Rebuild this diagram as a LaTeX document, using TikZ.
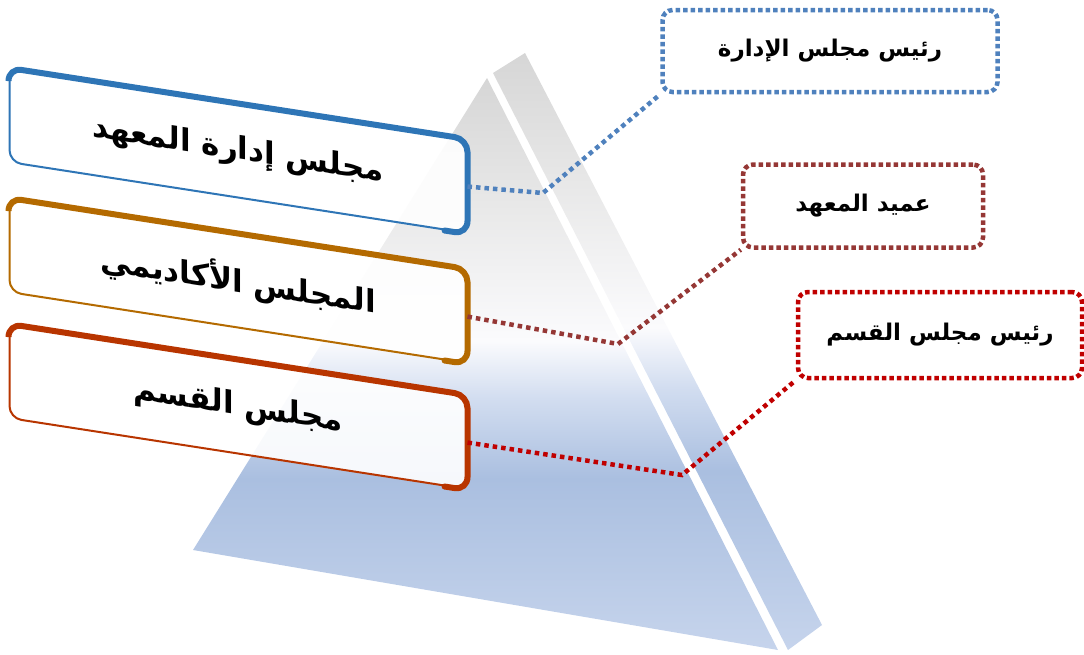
\documentclass[tikz,border=0pt]{standalone}
\usepackage{fontspec}
\newfontfamily\arabicfont[Script=Arabic]{DejaVu Sans}
\TeXXeTstate=1
\usetikzlibrary{calc}
\definecolor{boardblue}{HTML}{2E75B6}
\definecolor{acadorange}{HTML}{B46A00}
\definecolor{deptred}{HTML}{B83500}
\definecolor{dotblue}{HTML}{4F81BD}
\definecolor{dotbrown}{HTML}{953735}
\definecolor{dotred}{HTML}{C00000}
\definecolor{pyrtop}{HTML}{D6D6D6}
\definecolor{pyrgray}{HTML}{E8E8E8}
\definecolor{pyrwhite}{HTML}{FBFBFD}
\definecolor{pyrmid}{HTML}{D2DDF0}
\definecolor{pyrblue}{HTML}{AABFE0}
\definecolor{pyrlow}{HTML}{C6D4EC}
\pgfdeclareverticalshading{pyramid}{100bp}{color(0bp)=(pyrlow); color(25bp)=(pyrlow);
  color(40bp)=(pyrblue); color(47bp)=(pyrmid); color(52bp)=(pyrwhite);
  color(64bp)=(pyrgray); color(75bp)=(pyrtop); color(100bp)=(pyrtop)}
\begin{document}
\begin{tikzpicture}[x=1pt,y=-1pt,
    lbox/.style={yslant=-0.155,fill=white,fill opacity=0.9,text opacity=1,
      rounded corners=12pt,minimum width=457pt,minimum height=93pt,inner sep=0pt,
      line width=2pt,font=\arabicfont\bfseries\fontsize{31}{36}\selectfont},
    ledge/.style={line width=6pt,rounded corners=13pt,line cap=round},
    rbox/.style={fill=white,dash pattern=on 4.5pt off 3pt,line width=4.5pt,
      rounded corners=10pt,inner sep=0pt,
      font=\arabicfont\bfseries\fontsize{23}{27}\selectfont},
    link/.style={dash pattern=on 4.5pt off 4pt,line width=4.5pt}]
  \useasboundingbox (0,0) rectangle (1084,654);
  \shade[shading=pyramid] (487,78) -- (193,550) -- (778,650) -- cycle;
  \shade[shading=pyramid] (493,73) -- (525,53) -- (822,625) -- (788,650) -- cycle;

  \node[lbox,draw=boardblue] (board) at (238,151) {\beginR مجلس إدارة المعهد\endR};
  \node[lbox,draw=acadorange] (acad) at (238,281) {\beginR المجلس الأكاديمي\endR};
  \node[lbox,draw=deptred] (dept) at (238,407) {\beginR مجلس القسم\endR};
  \draw[ledge,boardblue] ($(board.north west)!0.12!(board.south west)$) -- (board.north west)
    -- (board.north east) -- (board.south east) -- ($(board.south east)!0.05!(board.south west)$);
  \draw[ledge,acadorange] ($(acad.north west)!0.12!(acad.south west)$) -- (acad.north west)
    -- (acad.north east) -- (acad.south east) -- ($(acad.south east)!0.05!(acad.south west)$);
  \draw[ledge,deptred] ($(dept.north west)!0.12!(dept.south west)$) -- (dept.north west)
    -- (dept.north east) -- (dept.south east) -- ($(dept.south east)!0.05!(dept.south west)$);

  \node[rbox,draw=dotblue,minimum width=335pt,minimum height=82pt] (chair) at (830,51)
    {\beginR رئيس مجلس الإدارة\endR};
  \node[rbox,draw=dotbrown,minimum width=240pt,minimum height=83pt] (dean) at (863,206)
    {\beginR عميد المعهد\endR};
  \node[rbox,draw=dotred,minimum width=284pt,minimum height=86pt] (head) at (940,335)
    {\beginR رئيس مجلس القسم\endR};

  \coordinate (k1) at (543,193);
  \coordinate (k2) at (618,344);
  \coordinate (k3) at (682,475);
  \draw[link,dotblue] (board.east) -- (k1) -- (chair.south west);
  \draw[link,dotbrown] (acad.east) -- (k2) -- (dean.south west);
  \draw[link,dotred] (dept.east) -- (k3) -- (head.south west);
\end{tikzpicture}
\end{document}
